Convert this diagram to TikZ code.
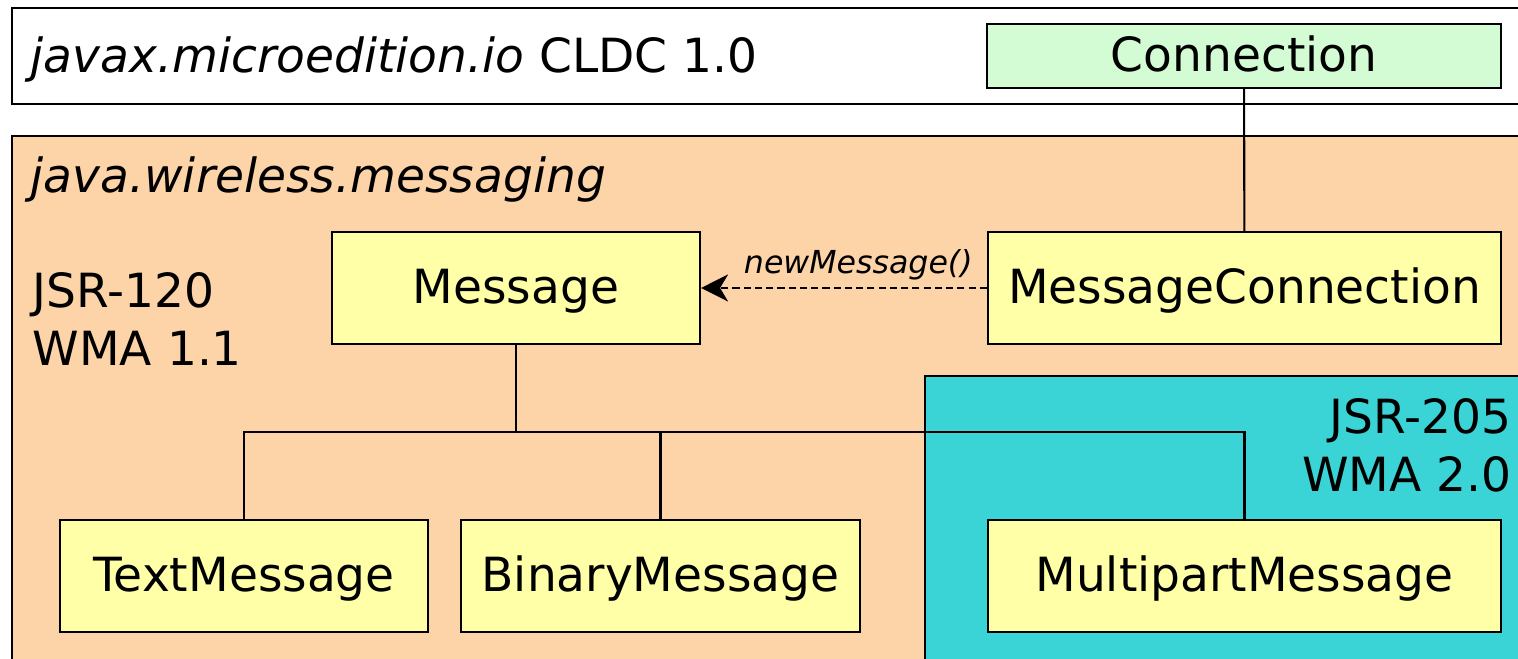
\documentclass[tikz,border=0pt]{standalone}
\usepackage{fontspec}
\setmainfont{DejaVu Sans}
\usetikzlibrary{arrows.meta}

\definecolor{pessego}{HTML}{FDD3A8}
\definecolor{limao}{HTML}{FFFFA8}
\definecolor{menta}{HTML}{D4FCD4}
\definecolor{ciano}{HTML}{3BD4D6}

\begin{document}
\begin{tikzpicture}[
	font=\fontsize{13.4}{16.4}\selectfont,
	linha/.style={line width=0.6pt},
	classe/.style={draw, linha, fill=limao, minimum height=1.12cm, inner sep=0pt,
		text height=0.89em, text depth=0pt},
	rotulo/.style={inner sep=0pt},
]
\useasboundingbox (0,0) rectangle (15.18,6.59);
\clip (0,0) rectangle (15.18,6.59);

% pacotes
	\draw[linha, fill=white] (0.12,6.51) rectangle (15.4,5.55);
	\draw[linha, fill=pessego] (0.12,5.23) rectangle (15.4,-0.2);
	\draw[linha, fill=ciano] (9.25,2.83) rectangle (15.4,-0.2);

	\node[rotulo, anchor=base west] (cldc) at (0.30,5.86) {\textit{javax.microedition.io} CLDC 1.0};
	\node[rotulo, anchor=base west] (wma) at (0.30,4.66) {\textit{java.wireless.messaging}};
	\node[rotulo, anchor=west, align=left] (jsr120) at (0.32,3.40) {JSR-120\\WMA 1.1};
	\node[rotulo, anchor=east, align=right] (jsr205) at (15.12,2.135) {JSR-205\\WMA 2.0};

% classes
	\node[classe, fill=menta, minimum width=5.14cm, minimum height=0.64cm] (con) at (12.44,6.03) {Connection};
	\node[classe, minimum width=3.68cm] (msg) at (5.16,3.71) {Message};
	\node[classe, minimum width=5.13cm] (mcon) at (12.445,3.71) {MessageConnection};
	\node[classe, minimum width=3.68cm] (txt) at (2.44,0.83) {TextMessage};
	\node[classe, minimum width=3.99cm] (bin) at (6.605,0.83) {BinaryMessage};
	\node[classe, minimum width=5.13cm] (mpm) at (12.445,0.83) {MultipartMessage};

% ligacoes
	\draw[linha] (con) -- (mcon);
	\draw[linha, dash pattern=on 2pt off 1.2pt, -{Stealth[length=0.27cm, width=0.27cm, inset=0.08cm]}]
		(mcon) -- node[pos=0.45, anchor=base, yshift=0.14cm, font=\itshape\fontsize{9}{11}\selectfont] {newMessage()} (msg);
	\coordinate (barra) at (5.16,2.27);
	\draw[linha] (msg) -- (barra);
	\foreach \c in {txt, bin, mpm}
		\draw[linha] (barra) -| (\c);
\end{tikzpicture}
\end{document}
